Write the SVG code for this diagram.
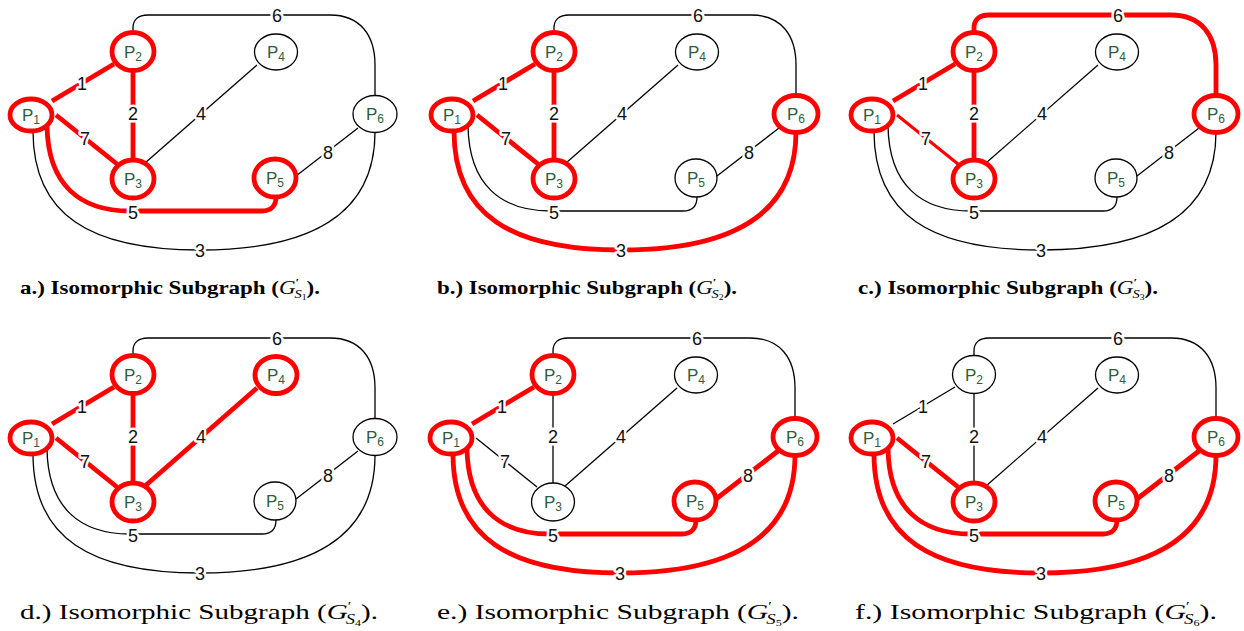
<svg xmlns="http://www.w3.org/2000/svg" width="1244" height="631" viewBox="0 0 1244 631">
<style>
.e{fill:none;stroke:#000;stroke-width:1.3}
.e.r{stroke:#f00;stroke-width:4.8}
.e.t{stroke:#f00;stroke-width:3}
.n ellipse{fill:#fff;stroke:#000;stroke-width:1.3}
.n.r ellipse{stroke:#f00;stroke-width:4.8}
.n text{font-family:"Liberation Sans",Arial,sans-serif;font-size:17px;fill:#2f5c3c;text-anchor:middle}
.n .s{font-size:12px}
.l{font-family:"Liberation Sans",Arial,sans-serif;font-size:18px;fill:#111;text-anchor:middle;stroke:#fff;stroke-width:5;paint-order:stroke;stroke-linejoin:round}
.cap{font-family:"Liberation Serif","Times New Roman",serif;font-size:19px;font-weight:bold;fill:#000}
.cap2{font-family:"Liberation Serif","Times New Roman",serif;font-size:22px;fill:#000}
.it{font-style:italic;font-weight:normal}
</style>

<!-- Panel a -->
<g id="panel-a">
 <g id="a-connectors">
  <path class="e" d="M133,33 L133,28 C133,20 138,15 148,15 L330,15 C360,15 375,35 375,65 L375,96"/>
  <path class="e" d="M145,163 L257,65"/>
  <path class="e" d="M296,176 L358,128"/>
  <path class="e" d="M33,131 C33,215 90,250 200,250 C310,250 375,215 375,132"/>
  <path class="e r" d="M52,101 L114,64"/>
  <path class="e r" d="M133,71 L133,160"/>
  <path class="e r" d="M56,115 L117,164"/>
  <path class="e r" d="M47,126 C48,185 80,211 130,211 L262,211 C272,211 276,205 276,197"/>
  <text class="l" x="82" y="89.5">1</text>
  <text class="l" x="133" y="119.5">2</text>
  <text class="l" x="85" y="144.5">7</text>
  <text class="l" x="201" y="119.5">4</text>
  <text class="l" x="328" y="158.5">8</text>
  <text class="l" x="277" y="21.5">6</text>
  <text class="l" x="133" y="218.5">5</text>
  <text class="l" x="200" y="256.5">3</text>
 </g>
 <g id="a-P1" class="n r"><ellipse cx="31" cy="115" rx="21" ry="16"/><text x="31" y="121">P<tspan class="s" dy="3">1</tspan></text></g>
 <g id="a-P2" class="n r"><ellipse cx="133" cy="51.5" rx="21" ry="19"/><text x="133" y="57.5">P<tspan class="s" dy="3">2</tspan></text></g>
 <g id="a-P3" class="n r"><ellipse cx="133" cy="179" rx="21" ry="19"/><text x="133" y="185">P<tspan class="s" dy="3">3</tspan></text></g>
 <g id="a-P4" class="n"><ellipse cx="276" cy="52" rx="21.5" ry="18"/><text x="276" y="58">P<tspan class="s" dy="3">4</tspan></text></g>
 <g id="a-P5" class="n r"><ellipse cx="275" cy="178" rx="21" ry="19"/><text x="275" y="184">P<tspan class="s" dy="3">5</tspan></text></g>
 <g id="a-P6" class="n"><ellipse cx="375" cy="114" rx="22" ry="18.5"/><text x="375" y="120">P<tspan class="s" dy="3">6</tspan></text></g>
</g>

<!-- Panel b -->
<g id="panel-b" transform="translate(421,0)">
 <g id="b-connectors">
  <path class="e" d="M133,33 L133,28 C133,20 138,15 148,15 L330,15 C360,15 375,35 375,65 L375,96"/>
  <path class="e" d="M145,163 L257,65"/>
  <path class="e" d="M296,176 L358,128"/>
  <path class="e" d="M47,126 C48,185 80,211 130,211 L262,211 C272,211 276,205 276,197"/>
  <path class="e r" d="M52,101 L114,64"/>
  <path class="e r" d="M133,71 L133,160"/>
  <path class="e r" d="M56,115 L117,164"/>
  <path class="e r" d="M33,131 C33,215 90,250 200,250 C310,250 375,215 375,132"/>
  <text class="l" x="82" y="89.5">1</text>
  <text class="l" x="133" y="119.5">2</text>
  <text class="l" x="85" y="144.5">7</text>
  <text class="l" x="201" y="119.5">4</text>
  <text class="l" x="328" y="158.5">8</text>
  <text class="l" x="277" y="21.5">6</text>
  <text class="l" x="133" y="218.5">5</text>
  <text class="l" x="200" y="256.5">3</text>
 </g>
 <g id="b-P1" class="n r"><ellipse cx="31" cy="115" rx="21" ry="16"/><text x="31" y="121">P<tspan class="s" dy="3">1</tspan></text></g>
 <g id="b-P2" class="n r"><ellipse cx="133" cy="51.5" rx="21" ry="19"/><text x="133" y="57.5">P<tspan class="s" dy="3">2</tspan></text></g>
 <g id="b-P3" class="n r"><ellipse cx="133" cy="179" rx="21" ry="19"/><text x="133" y="185">P<tspan class="s" dy="3">3</tspan></text></g>
 <g id="b-P4" class="n"><ellipse cx="276" cy="52" rx="21.5" ry="18"/><text x="276" y="58">P<tspan class="s" dy="3">4</tspan></text></g>
 <g id="b-P5" class="n"><ellipse cx="275" cy="178" rx="21" ry="19"/><text x="275" y="184">P<tspan class="s" dy="3">5</tspan></text></g>
 <g id="b-P6" class="n r"><ellipse cx="375" cy="114" rx="22" ry="18.5"/><text x="375" y="120">P<tspan class="s" dy="3">6</tspan></text></g>
</g>

<!-- Panel c -->
<g id="panel-c" transform="translate(841,0)">
 <g id="c-connectors">
  <path class="e" d="M145,163 L257,65"/>
  <path class="e" d="M296,176 L358,128"/>
  <path class="e" d="M47,126 C48,185 80,211 130,211 L262,211 C272,211 276,205 276,197"/>
  <path class="e" d="M33,131 C33,215 90,250 200,250 C310,250 375,215 375,132"/>
  <path class="e r" d="M133,33 L133,28 C133,20 138,15 148,15 L330,15 C360,15 375,35 375,65 L375,96"/>
  <path class="e r" d="M52,101 L114,64"/>
  <path class="e r" d="M133,71 L133,160"/>
  <path class="e t" d="M56,115 L117,164"/>
  <text class="l" x="82" y="89.5">1</text>
  <text class="l" x="133" y="119.5">2</text>
  <text class="l" x="85" y="144.5">7</text>
  <text class="l" x="201" y="119.5">4</text>
  <text class="l" x="328" y="158.5">8</text>
  <text class="l" x="277" y="21.5">6</text>
  <text class="l" x="133" y="218.5">5</text>
  <text class="l" x="200" y="256.5">3</text>
 </g>
 <g id="c-P1" class="n r"><ellipse cx="31" cy="115" rx="21" ry="16"/><text x="31" y="121">P<tspan class="s" dy="3">1</tspan></text></g>
 <g id="c-P2" class="n r"><ellipse cx="133" cy="51.5" rx="21" ry="19"/><text x="133" y="57.5">P<tspan class="s" dy="3">2</tspan></text></g>
 <g id="c-P3" class="n r"><ellipse cx="133" cy="179" rx="21" ry="19"/><text x="133" y="185">P<tspan class="s" dy="3">3</tspan></text></g>
 <g id="c-P4" class="n"><ellipse cx="276" cy="52" rx="21.5" ry="18"/><text x="276" y="58">P<tspan class="s" dy="3">4</tspan></text></g>
 <g id="c-P5" class="n"><ellipse cx="275" cy="178" rx="21" ry="19"/><text x="275" y="184">P<tspan class="s" dy="3">5</tspan></text></g>
 <g id="c-P6" class="n r"><ellipse cx="375" cy="114" rx="22" ry="18.5"/><text x="375" y="120">P<tspan class="s" dy="3">6</tspan></text></g>
</g>

<!-- Panel d -->
<g id="panel-d" transform="translate(0,323)">
 <g id="d-connectors">
  <path class="e" d="M133,33 L133,28 C133,20 138,15 148,15 L330,15 C360,15 375,35 375,65 L375,96"/>
  <path class="e" d="M296,176 L358,128"/>
  <path class="e" d="M47,126 C48,185 80,211 130,211 L262,211 C272,211 276,205 276,197"/>
  <path class="e" d="M33,131 C33,215 90,250 200,250 C310,250 375,215 375,132"/>
  <path class="e r" d="M52,101 L114,64"/>
  <path class="e r" d="M133,71 L133,160"/>
  <path class="e r" d="M56,115 L117,164"/>
  <path class="e r" d="M145,163 L257,65"/>
  <text class="l" x="82" y="89.5">1</text>
  <text class="l" x="133" y="119.5">2</text>
  <text class="l" x="85" y="144.5">7</text>
  <text class="l" x="201" y="119.5">4</text>
  <text class="l" x="328" y="158.5">8</text>
  <text class="l" x="277" y="21.5">6</text>
  <text class="l" x="133" y="218.5">5</text>
  <text class="l" x="200" y="256.5">3</text>
 </g>
 <g id="d-P1" class="n r"><ellipse cx="31" cy="115" rx="21" ry="16"/><text x="31" y="121">P<tspan class="s" dy="3">1</tspan></text></g>
 <g id="d-P2" class="n r"><ellipse cx="133" cy="51.5" rx="21" ry="19"/><text x="133" y="57.5">P<tspan class="s" dy="3">2</tspan></text></g>
 <g id="d-P3" class="n r"><ellipse cx="133" cy="179" rx="21" ry="19"/><text x="133" y="185">P<tspan class="s" dy="3">3</tspan></text></g>
 <g id="d-P4" class="n r"><ellipse cx="276" cy="52" rx="21" ry="18.5"/><text x="276" y="58">P<tspan class="s" dy="3">4</tspan></text></g>
 <g id="d-P5" class="n"><ellipse cx="275" cy="178" rx="21" ry="19"/><text x="275" y="184">P<tspan class="s" dy="3">5</tspan></text></g>
 <g id="d-P6" class="n"><ellipse cx="375" cy="114" rx="22" ry="18.5"/><text x="375" y="120">P<tspan class="s" dy="3">6</tspan></text></g>
</g>

<!-- Panel e -->
<g id="panel-e" transform="translate(420,323)">
 <g id="e-connectors">
  <path class="e" d="M133,33 L133,28 C133,20 138,15 148,15 L330,15 C360,15 375,35 375,65 L375,96"/>
  <path class="e" d="M145,163 L257,65"/>
  <path class="e" d="M133,71 L133,160"/>
  <path class="e" d="M56,115 L117,164"/>
  <path class="e r" d="M52,101 L114,64"/>
  <path class="e r" d="M296,176 L358,128"/>
  <path class="e r" d="M47,126 C48,185 80,211 130,211 L262,211 C272,211 276,205 276,197"/>
  <path class="e r" d="M33,131 C33,215 90,250 200,250 C310,250 375,215 375,132"/>
  <text class="l" x="82" y="89.5">1</text>
  <text class="l" x="133" y="119.5">2</text>
  <text class="l" x="85" y="144.5">7</text>
  <text class="l" x="201" y="119.5">4</text>
  <text class="l" x="328" y="158.5">8</text>
  <text class="l" x="277" y="21.5">6</text>
  <text class="l" x="133" y="218.5">5</text>
  <text class="l" x="200" y="256.5">3</text>
 </g>
 <g id="e-P1" class="n r"><ellipse cx="31" cy="115" rx="21" ry="16"/><text x="31" y="121">P<tspan class="s" dy="3">1</tspan></text></g>
 <g id="e-P2" class="n r"><ellipse cx="133" cy="51.5" rx="21" ry="19"/><text x="133" y="57.5">P<tspan class="s" dy="3">2</tspan></text></g>
 <g id="e-P3" class="n"><ellipse cx="133" cy="179" rx="21.5" ry="19"/><text x="133" y="185">P<tspan class="s" dy="3">3</tspan></text></g>
 <g id="e-P4" class="n"><ellipse cx="276" cy="52" rx="21.5" ry="18"/><text x="276" y="58">P<tspan class="s" dy="3">4</tspan></text></g>
 <g id="e-P5" class="n r"><ellipse cx="275" cy="178" rx="21" ry="19"/><text x="275" y="184">P<tspan class="s" dy="3">5</tspan></text></g>
 <g id="e-P6" class="n r"><ellipse cx="375" cy="114" rx="22" ry="18.5"/><text x="375" y="120">P<tspan class="s" dy="3">6</tspan></text></g>
</g>

<!-- Panel f -->
<g id="panel-f" transform="translate(841,323)">
 <g id="f-connectors">
  <path class="e" d="M133,33 L133,28 C133,20 138,15 148,15 L330,15 C360,15 375,35 375,65 L375,96"/>
  <path class="e" d="M145,163 L257,65"/>
  <path class="e" d="M133,71 L133,160"/>
  <path class="e" d="M52,101 L114,64"/>
  <path class="e r" d="M56,115 L117,164"/>
  <path class="e r" d="M296,176 L358,128"/>
  <path class="e r" d="M47,126 C48,185 80,211 130,211 L262,211 C272,211 276,205 276,197"/>
  <path class="e r" d="M33,131 C33,215 90,250 200,250 C310,250 375,215 375,132"/>
  <text class="l" x="82" y="89.5">1</text>
  <text class="l" x="133" y="119.5">2</text>
  <text class="l" x="85" y="144.5">7</text>
  <text class="l" x="201" y="119.5">4</text>
  <text class="l" x="328" y="158.5">8</text>
  <text class="l" x="277" y="21.5">6</text>
  <text class="l" x="133" y="218.5">5</text>
  <text class="l" x="200" y="256.5">3</text>
 </g>
 <g id="f-P1" class="n r"><ellipse cx="31" cy="115" rx="21" ry="16"/><text x="31" y="121">P<tspan class="s" dy="3">1</tspan></text></g>
 <g id="f-P2" class="n"><ellipse cx="133" cy="51.5" rx="21.5" ry="19"/><text x="133" y="57.5">P<tspan class="s" dy="3">2</tspan></text></g>
 <g id="f-P3" class="n r"><ellipse cx="133" cy="179" rx="21" ry="19"/><text x="133" y="185">P<tspan class="s" dy="3">3</tspan></text></g>
 <g id="f-P4" class="n"><ellipse cx="276" cy="52" rx="21.5" ry="18"/><text x="276" y="58">P<tspan class="s" dy="3">4</tspan></text></g>
 <g id="f-P5" class="n r"><ellipse cx="275" cy="178" rx="21" ry="19"/><text x="275" y="184">P<tspan class="s" dy="3">5</tspan></text></g>
 <g id="f-P6" class="n r"><ellipse cx="375" cy="114" rx="22" ry="18.5"/><text x="375" y="120">P<tspan class="s" dy="3">6</tspan></text></g>
</g>

<!-- Captions -->
<g id="captions">
 <text class="cap" x="20" y="294" textLength="300" lengthAdjust="spacingAndGlyphs">a.) Isomorphic Subgraph (<tspan class="it">G</tspan><tspan font-size="11" dy="-8">′</tspan><tspan class="it" font-size="12" dx="-4" dy="12">S</tspan><tspan font-size="8" font-weight="normal" dy="2">1</tspan><tspan dy="-6">).</tspan></text>
 <text class="cap" x="437" y="294" textLength="300" lengthAdjust="spacingAndGlyphs">b.) Isomorphic Subgraph (<tspan class="it">G</tspan><tspan font-size="11" dy="-8">′</tspan><tspan class="it" font-size="12" dx="-4" dy="12">S</tspan><tspan font-size="8" font-weight="normal" dy="2">2</tspan><tspan dy="-6">).</tspan></text>
 <text class="cap" x="858" y="294" textLength="300" lengthAdjust="spacingAndGlyphs">c.) Isomorphic Subgraph (<tspan class="it">G</tspan><tspan font-size="11" dy="-8">′</tspan><tspan class="it" font-size="12" dx="-4" dy="12">S</tspan><tspan font-size="8" font-weight="normal" dy="2">3</tspan><tspan dy="-6">).</tspan></text>
 <text class="cap2" x="20" y="619" textLength="358" lengthAdjust="spacingAndGlyphs">d.) Isomorphic Subgraph (<tspan class="it">G</tspan><tspan font-size="12" dy="-9">′</tspan><tspan class="it" font-size="14" dx="-4" dy="14">S</tspan><tspan font-size="9" dy="2">4</tspan><tspan dy="-7">).</tspan></text>
 <text class="cap2" x="437" y="619" textLength="362" lengthAdjust="spacingAndGlyphs">e.) Isomorphic Subgraph (<tspan class="it">G</tspan><tspan font-size="12" dy="-9">′</tspan><tspan class="it" font-size="14" dx="-4" dy="14">S</tspan><tspan font-size="9" dy="2">5</tspan><tspan dy="-7">).</tspan></text>
 <text class="cap2" x="855" y="619" textLength="362" lengthAdjust="spacingAndGlyphs">f.) Isomorphic Subgraph (<tspan class="it">G</tspan><tspan font-size="12" dy="-9">′</tspan><tspan class="it" font-size="14" dx="-4" dy="14">S</tspan><tspan font-size="9" dy="2">6</tspan><tspan dy="-7">).</tspan></text>
</g>
</svg>
